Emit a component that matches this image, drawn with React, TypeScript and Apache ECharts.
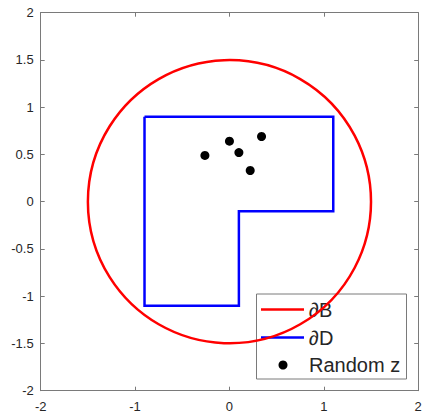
import React, { useEffect, useRef } from 'react';
import * as echarts from 'echarts';

// ---- data ----
const axisMin = -2;
const axisMax = 2;
const xInterval = 1;
const yInterval = 0.5;
const circleCenter = [0, 0];
const circleRadius = 1.5;
const regionD: number[][] = [
  [-0.9, 0.9], [1.1, 0.9], [1.1, -0.1], [0.1, -0.1], [0.1, -1.1], [-0.9, -1.1], [-0.9, 0.9],
];
const randomZ: number[][] = [
  [-0.26, 0.49], [0.0, 0.64], [0.1, 0.52], [0.34, 0.69], [0.22, 0.33],
];
const legendLabels = ['\u2202B', '\u2202D', 'Random z'];

const RED = '#ff0000';
const BLUE = '#0000ff';
const TEXT = '#262626';
const AXIS = '#7a7a7a';
const FONT = '"Liberation Sans", Arial, Helvetica, sans-serif';

function legendText(label: string) {
  if (label.startsWith('\u2202')) return `{i|\u2202}${label.slice(1)}`;
  return label;
}

export default function App() {
  const ref = useRef<HTMLDivElement>(null);
  useEffect(() => {
    if (!ref.current) return;
    const chart = echarts.init(ref.current, undefined, { renderer: 'svg' });
    const gl = 40.7, gt = 12.7, gw = 377.5, gh = 378;
    const axBase = {
      type: 'value' as const,
      min: axisMin,
      max: axisMax,
      splitLine: { show: false },
      axisLine: { show: true, onZero: false, lineStyle: { color: AXIS, width: 1 } },
      axisTick: { show: true, inside: true, length: 4, lineStyle: { color: AXIS, width: 1 } },
      axisLabel: { color: TEXT, fontSize: 13, fontFamily: FONT },
    };
    const lg = { x: 256.5, y: 294, w: 150, h: 85 };
    const rows = [309.5, 337.5, 365];
    const textStyle = (i: number) => ({
      text: legendText(legendLabels[i]),
      fill: TEXT,
      font: `20px ${FONT}`,
      verticalAlign: 'middle',
      align: 'left',
      rich: { i: { fontStyle: 'italic', fontSize: 20, fontFamily: FONT, fill: TEXT } },
    });
    chart.setOption({
      animation: false,
      backgroundColor: '#ffffff',
      grid: { left: gl, top: gt, width: gw, height: gh, containLabel: false, outerBoundsMode: 'none' },
      xAxis: [
        { ...axBase, position: 'bottom', interval: xInterval, axisLabel: { ...axBase.axisLabel, margin: 9 } },
        { ...axBase, position: 'top', interval: xInterval, axisLabel: { show: false } },
      ],
      yAxis: [
        { ...axBase, position: 'left', interval: yInterval, axisLabel: { ...axBase.axisLabel, margin: 7 } },
        { ...axBase, position: 'right', interval: yInterval, axisLabel: { show: false } },
      ],
      series: [
        {
          type: 'custom',
          name: legendLabels[0],
          xAxisIndex: 0,
          yAxisIndex: 0,
          clip: false,
          data: [circleCenter],
          encode: { x: 0, y: 1 },
          renderItem: (params: any, api: any) => {
            const c = api.coord(circleCenter);
            const r = api.size([circleRadius, 0])[0];
            return {
              type: 'circle',
              shape: { cx: c[0], cy: c[1], r },
              style: { fill: 'none', stroke: RED, lineWidth: 2.5 },
            };
          },
        },
        {
          type: 'line',
          name: legendLabels[1],
          data: regionD,
          showSymbol: false,
          symbol: 'none',
          lineStyle: { color: BLUE, width: 2.5, join: 'miter' },
          z: 3,
        },
        {
          type: 'scatter',
          name: legendLabels[2],
          data: randomZ,
          symbol: 'circle',
          symbolSize: 9,
          itemStyle: { color: '#000000', opacity: 1 },
          z: 4,
        },
      ],
      graphic: [
        {
          type: 'group',
          z: 100,
          children: [
            { type: 'rect', shape: { x: lg.x, y: lg.y, width: lg.w, height: lg.h }, style: { fill: '#ffffff', stroke: AXIS, lineWidth: 1 } },
            { type: 'line', shape: { x1: 261, y1: rows[0], x2: 304, y2: rows[0] }, style: { stroke: RED, lineWidth: 2.5 } },
            { type: 'line', shape: { x1: 261, y1: rows[1], x2: 304, y2: rows[1] }, style: { stroke: BLUE, lineWidth: 2.5 } },
            { type: 'circle', shape: { cx: 283, cy: rows[2], r: 4.5 }, style: { fill: '#000000' } },
            { type: 'text', x: 309, y: rows[0], style: textStyle(0) },
            { type: 'text', x: 309, y: rows[1], style: textStyle(1) },
            { type: 'text', x: 309, y: rows[2], style: textStyle(2) },
          ],
        },
      ],
    });
    return () => chart.dispose();
  }, []);
  return <div ref={ref} style={{ position: 'fixed', left: 0, top: 0, width: 423, height: 413 }} />;
}
